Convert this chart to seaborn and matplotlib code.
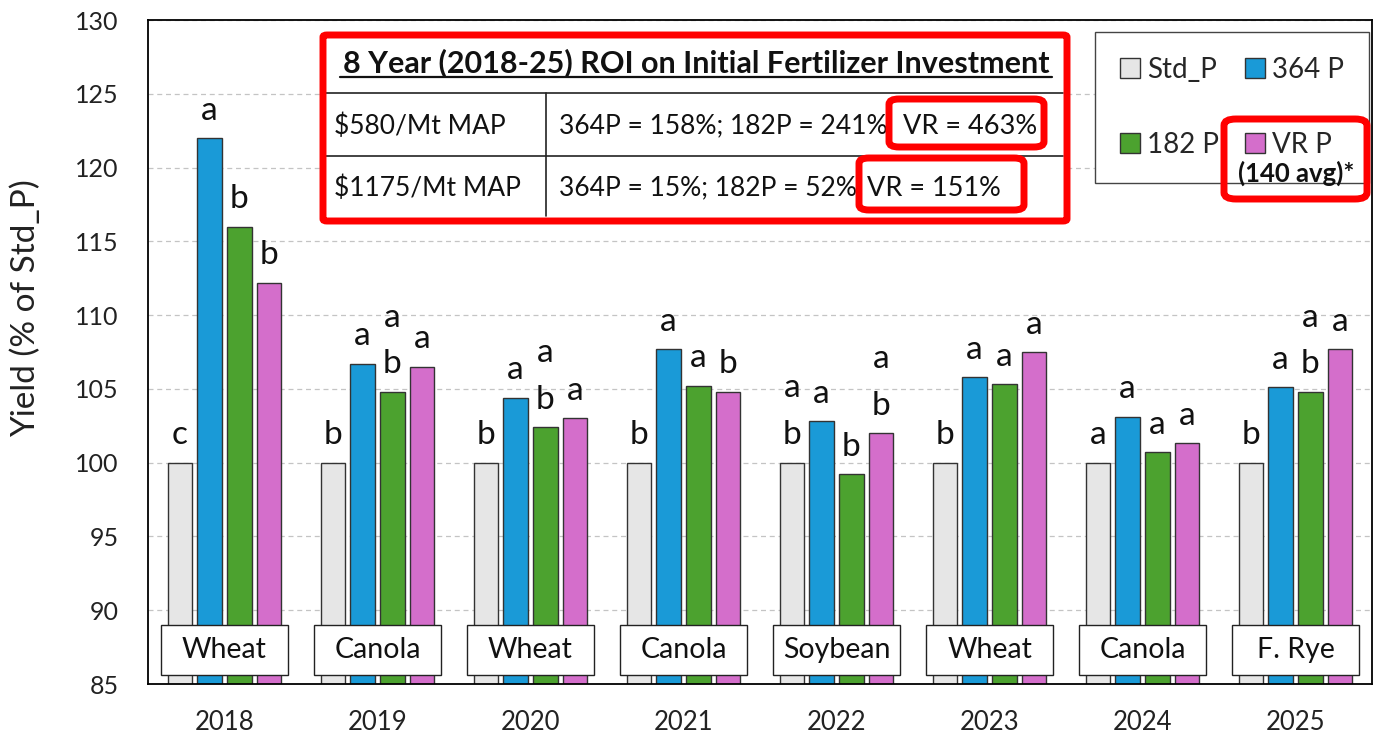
import matplotlib
matplotlib.use("Agg")
import matplotlib.pyplot as plt
from matplotlib.patches import Patch, Rectangle, FancyBboxPatch
from matplotlib.lines import Line2D
import matplotlib.transforms as mtransforms
import seaborn as sns
import pandas as pd

# ---- data ----
years = ["2018", "2019", "2020", "2021", "2022", "2023", "2024", "2025"]
crops = ["Wheat", "Canola", "Wheat", "Canola", "Soybean", "Wheat", "Canola", "F. Rye"]
treatments = ["Std_P", "364 P", "182 P", "VR P"]
std_p = [100, 100, 100, 100, 100, 100, 100, 100]
p364 = [122.0, 106.7, 104.4, 107.7, 102.8, 105.8, 103.1, 105.1]
p182 = [116.0, 104.8, 102.4, 105.2, 99.2, 105.3, 100.7, 104.8]
vr_p = [112.2, 106.5, 103.0, 104.8, 102.0, 107.5, 101.3, 107.7]
letters = {
    "Std_P": ["c", "b", "b", "b", "a\nb", "b", "a", "b"],
    "364 P": ["a", "a", "a", "a", "a", "a", "a", "a"],
    "182 P": ["b", "a\nb", "a\nb", "a", "b", "a", "a", "a\nb"],
    "VR P": ["b", "a", "a", "b", "a\nb", "a", "a", "a"],
}
roi_title = "8 Year (2018-25) ROI on Initial Fertilizer Investment"
roi_price = ["$580/Mt MAP", "$1175/Mt MAP"]
roi_fixed = ["364P = 158%; 182P = 241%", "364P = 15%; 182P = 52%"]
roi_vr = ["VR = 463%", "VR = 151%"]
vr_note = "(140 avg)*"

colors = ["#E6E6E6", "#1A9AD7", "#4CA22F", "#D46ECB"]

df = pd.DataFrame({
    "year": years * 4,
    "treatment": [t for t in treatments for _ in years],
    "yield": std_p + p364 + p182 + vr_p,
})

sns.set_theme(style="white")
plt.rcParams["font.family"] = ["Lato", "DejaVu Sans"]

W, H = 1375, 734
fig = plt.figure(figsize=(W / 100, H / 100), dpi=100)
ax = fig.add_axes([148 / W, (H - 684) / H, 1224 / W, 664 / H])

sns.barplot(data=df, x="year", y="yield", hue="treatment", hue_order=treatments,
            palette=colors, saturation=1, width=0.78, gap=0.18, edgecolor="#333333",
            linewidth=1.0, ax=ax, legend=False, zorder=2)

ax.set_ylim(85, 130)
ax.set_yticks(range(85, 131, 5))
ax.yaxis.grid(True, linestyle=(0, (4, 3)), color="#C4C4C4", linewidth=0.9, zorder=0)
ax.set_axisbelow(True)
for s in ax.spines.values():
    s.set_color("black")
    s.set_linewidth(1.3)
ax.tick_params(axis="y", labelsize=18, length=0, pad=21, labelcolor="#222222")
ax.tick_params(axis="x", labelsize=18.5, length=0, pad=19, labelcolor="#222222")
ax.set_xlabel("")
ax.set_ylabel("Yield (% of Std_P)", fontsize=24, color="#222222")
ax.yaxis.set_label_coords(-0.087, 0.566)

# significance letters above each bar
for cont, t in zip(ax.containers, treatments):
    for bar, lt in zip(cont, letters[t]):
        x = bar.get_x() + bar.get_width() / 2
        ax.annotate(lt, (x, bar.get_height()), xytext=(0, 9), textcoords="offset points",
                    ha="center", va="bottom", fontsize=24, linespacing=1.7,
                    color="#111111", zorder=4)

# crop name boxes along the bottom of each year group
blend = mtransforms.blended_transform_factory(ax.transData, ax.transAxes)
for i, crop in enumerate(crops):
    ax.add_patch(Rectangle((i - 0.415, 0.0136), 0.83, 0.075, transform=blend,
                           facecolor="white", edgecolor="#222222", linewidth=1.0,
                           zorder=5))
    ax.text(i, 0.0512, crop, transform=blend, ha="center", va="center",
            fontsize=20.5, color="#111111", zorder=6)

# ---- ROI table ----
def fx(x):
    return x / W

def fy(y):
    return 1 - y / H

fig.patches.append(Rectangle((fx(325), fy(220)), fx(1066) - fx(325), fy(36) - fy(220),
                             transform=fig.transFigure, facecolor="white",
                             edgecolor="none", zorder=6))
fig.text(fx(696), fy(63), roi_title, ha="center", va="center", fontsize=22,
         fontweight="bold", color="#111111", zorder=8)
fig.add_artist(Line2D([fx(340), fx(1052)], [fy(77), fy(77)], color="#111111",
                      linewidth=1.6, transform=fig.transFigure, zorder=8))
for yy in (93, 156):
    fig.add_artist(Line2D([fx(325), fx(1063)], [fy(yy), fy(yy)], color="#222222",
                          linewidth=1.2, transform=fig.transFigure, zorder=8))
fig.add_artist(Line2D([fx(546), fx(546)], [fy(93), fy(216)], color="#222222",
                      linewidth=1.2, transform=fig.transFigure, zorder=8))
for row_y, price, fixed, vr, vx in zip((126, 188), roi_price, roi_fixed, roi_vr, (903, 867)):
    fig.text(fx(334), fy(row_y), price, ha="left", va="center", fontsize=19,
             color="#111111", zorder=8)
    fig.text(fx(559), fy(row_y), fixed, ha="left", va="center", fontsize=19,
             color="#111111", zorder=8)
    fig.text(fx(vx), fy(row_y), vr, ha="left", va="center", fontsize=19.5,
             color="#111111", zorder=8)

def red_box(x0, y0, x1, y1, lw=5.0, pad=6):
    fig.patches.append(FancyBboxPatch((fx(x0), fy(y1)), fx(x1) - fx(x0), fy(y0) - fy(y1),
                                      boxstyle=f"round,pad=0,rounding_size={pad / W}",
                                      transform=fig.transFigure, facecolor="none",
                                      edgecolor="#FF0000", linewidth=lw, zorder=9))

red_box(323, 35, 1067, 221, pad=4)
red_box(889, 99, 1044, 147, pad=10)
red_box(859, 158, 1024, 210, pad=10)

# ---- legend ----
handles = [Patch(facecolor=c, edgecolor="#333333", linewidth=1.0) for c in colors]
order = [0, 2, 1, 3]
leg = ax.legend([handles[i] for i in order], [treatments[i] for i in order],
                ncol=2, loc="upper left", bbox_to_anchor=(fx(1095), fy(32)),
                bbox_transform=fig.transFigure, borderaxespad=0, fontsize=20,
                frameon=True, fancybox=False, edgecolor="#444444", framealpha=1,
                handlelength=0.72, handleheight=0.72, handletextpad=0.25,
                columnspacing=0.95, labelspacing=1.75, borderpad=0.9)
leg.get_frame().set_linewidth(1.0)
leg.set_zorder(7)
fig.text(fx(1296), fy(173), vr_note, ha="center", va="center", fontsize=18.5,
         fontweight="bold", color="#111111", zorder=10)
red_box(1224, 119, 1367, 199, pad=12)

fig.savefig("out.png", dpi=100)
